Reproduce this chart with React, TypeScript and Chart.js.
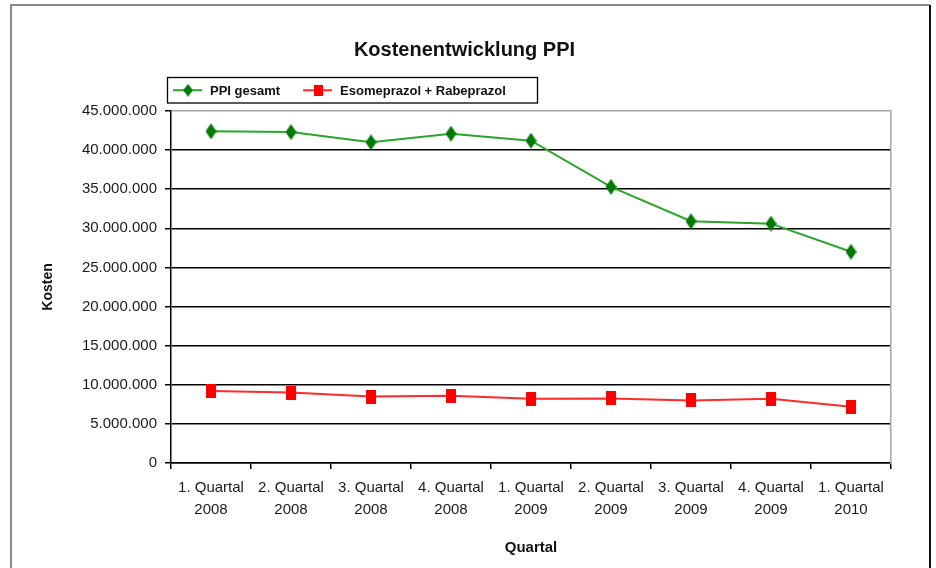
import React, { useEffect, useRef } from 'react';
import { Chart, registerables } from 'chart.js';

Chart.register(...registerables);

const categories: string[][] = [
  ['1. Quartal', '2008'],
  ['2. Quartal', '2008'],
  ['3. Quartal', '2008'],
  ['4. Quartal', '2008'],
  ['1. Quartal', '2009'],
  ['2. Quartal', '2009'],
  ['3. Quartal', '2009'],
  ['4. Quartal', '2009'],
  ['1. Quartal', '2010'],
];
const ppiGesamt = [42400000, 42300000, 41000000, 42100000, 41200000, 35300000, 30900000, 30600000, 27000000];
const esomeprazolRabeprazol = [9200000, 9000000, 8500000, 8600000, 8200000, 8250000, 8000000, 8200000, 7200000];
const seriesNames = ['PPI gesamt', 'Esomeprazol + Rabeprazol'];
const yMin = 0;
const yMax = 45000000;
const yStep = 5000000;
const chartTitle = 'Kostenentwicklung PPI';
const yTitle = 'Kosten';
const xTitle = 'Quartal';

const FONT = "'Liberation Sans', Arial, sans-serif";

const fmt = (v: number) => String(Math.round(v)).replace(/\B(?=(\d{3})+(?!\d))/g, '.');

function makeMarker(kind: 'diamond' | 'square', color: string, w: number, h: number) {
  const c = document.createElement('canvas');
  c.width = w;
  c.height = h;
  const g = c.getContext('2d')!;
  g.fillStyle = color;
  if (kind === 'diamond') {
    g.beginPath();
    g.moveTo(w / 2, 0);
    g.lineTo(w, h / 2);
    g.lineTo(w / 2, h);
    g.lineTo(0, h / 2);
    g.closePath();
    g.fill();
  } else {
    g.fillRect(0, 0, w, h);
  }
  return c;
}

export default function App() {
  const ref = useRef<HTMLCanvasElement>(null);

  useEffect(() => {
    if (!ref.current) return;
    const greenMarker = makeMarker('diamond', '#007a00', 11, 16);
    const redMarker = makeMarker('square', '#ff0000', 10, 14);
    const lineColors = ['#2aa52a', '#ff2a2a'];
    const markers = [greenMarker, redMarker];

    const framePlugin = {
      id: 'frame',
      beforeDraw(chart: any) {
        const ctx = chart.ctx;
        ctx.save();
        ctx.fillStyle = '#fff';
        ctx.fillRect(0, 0, chart.width, chart.height);
        ctx.restore();
      },
      afterDraw(chart: any) {
        const ctx = chart.ctx;
        ctx.save();
        // outer frame
        ctx.strokeStyle = '#8a8a8a';
        ctx.lineWidth = 2;
        ctx.beginPath();
        ctx.moveTo(11, chart.height);
        ctx.lineTo(11, 5);
        ctx.lineTo(930, 5);
        ctx.stroke();
        ctx.strokeStyle = '#111';
        ctx.beginPath();
        ctx.moveTo(930, 5);
        ctx.lineTo(930, chart.height);
        ctx.stroke();

        // legend
        const box = { left: 167.5, top: 77.5, right: 537.5, bottom: 103 };
        ctx.strokeStyle = '#000';
        ctx.lineWidth = 1.3;
        ctx.strokeRect(box.left, box.top, box.right - box.left, box.bottom - box.top);
        const cy = (box.top + box.bottom) / 2;
        ctx.font = `bold 13px ${FONT}`;
        ctx.textBaseline = 'middle';
        ctx.textAlign = 'left';
        let x = 173;
        chart.data.datasets.forEach((ds: any, i: number) => {
          ctx.strokeStyle = lineColors[i];
          ctx.lineWidth = 2;
          ctx.beginPath();
          ctx.moveTo(x, cy);
          ctx.lineTo(x + 29, cy);
          ctx.stroke();
          const m = markers[i];
          const mw = m.width * 0.9;
          const mh = m.height * 0.8;
          ctx.drawImage(m, x + 15 - mw / 2, cy - mh / 2, mw, mh);
          ctx.fillStyle = '#111';
          ctx.fillText(ds.label, x + 37, cy + 1);
          x += 37 + ctx.measureText(ds.label).width + 23;
        });
        ctx.restore();
      },
    };

    const chart = new Chart(ref.current, {
      type: 'line',
      data: {
        labels: categories,
        datasets: [
          {
            label: seriesNames[0],
            data: ppiGesamt,
            borderColor: lineColors[0],
            backgroundColor: '#007a00',
            borderWidth: 2,
            pointStyle: greenMarker as any,
            pointRadius: 6,
            tension: 0,
            yAxisID: 'y',
          },
          {
            label: seriesNames[1],
            data: esomeprazolRabeprazol,
            borderColor: lineColors[1],
            backgroundColor: '#ff0000',
            borderWidth: 2,
            pointStyle: redMarker as any,
            pointRadius: 6,
            tension: 0,
            yAxisID: 'y',
          },
        ],
      },
      options: {
        responsive: false,
        animation: false,
        events: [],
        layout: { padding: { left: -7, right: 0, top: 0, bottom: 0 } },
        plugins: {
          legend: { display: false },
          tooltip: { enabled: false },
          title: {
            display: true,
            text: chartTitle,
            color: '#111',
            font: { family: FONT, size: 20, weight: 'bold', lineHeight: 1.2 },
            padding: { top: 38, bottom: 49 },
          },
        },
        scales: {
          x: {
            type: 'category',
            offset: true,
            grid: {
              offset: true,
              drawOnChartArea: false,
              drawTicks: true,
              tickLength: 6,
              color: '#000',
              lineWidth: 1.5,
            },
            border: { color: '#000', width: 1.5 },
            ticks: {
              color: '#1a1a1a',
              padding: 8,
              maxRotation: 0,
              autoSkip: false,
              font: { family: FONT, size: 15, lineHeight: 1.45 },
            },
            title: {
              display: true,
              text: xTitle,
              color: '#111',
              font: { family: FONT, size: 15, weight: 'bold', lineHeight: 1.2 },
              padding: { top: 0, bottom: 11 },
            },
            afterFit: (s: any) => {
              s.height = 105;
            },
          },
          y: {
            min: yMin,
            max: yMax,
            ticks: {
              stepSize: yStep,
              color: '#1a1a1a',
              padding: 8,
              font: { family: FONT, size: 15 },
              callback: (v: any) => fmt(Number(v)),
            },
            grid: {
              color: (c: any) => (c.tick && c.tick.value === yMax ? '#a6a6a6' : '#000'),
              tickColor: '#000',
              lineWidth: 1.5,
              tickLength: 6,
              drawTicks: true,
            },
            border: { color: '#000', width: 1.5 },
            title: {
              display: true,
              text: yTitle,
              color: '#111',
              font: { family: FONT, size: 14, weight: 'bold', lineHeight: 1.2 },
              padding: { top: 47, bottom: 0 },
            },
            afterFit: (s: any) => {
              s.width = 178;
            },
          },
          yRight: {
            position: 'right',
            min: yMin,
            max: yMax,
            grid: { display: false, drawTicks: false },
            ticks: { display: false },
            border: { display: true, color: '#a6a6a6', width: 1.5 },
            afterFit: (s: any) => {
              s.width = 45;
            },
          },
        },
      },
      plugins: [framePlugin],
    } as any);
    return () => chart.destroy();
  }, []);

  return (
    <div style={{ position: 'absolute', left: 0, top: 0, width: 936, height: 568, background: '#fff' }}>
      <canvas ref={ref} width={936} height={568} style={{ display: 'block', width: 936, height: 568 }} />
    </div>
  );
}
